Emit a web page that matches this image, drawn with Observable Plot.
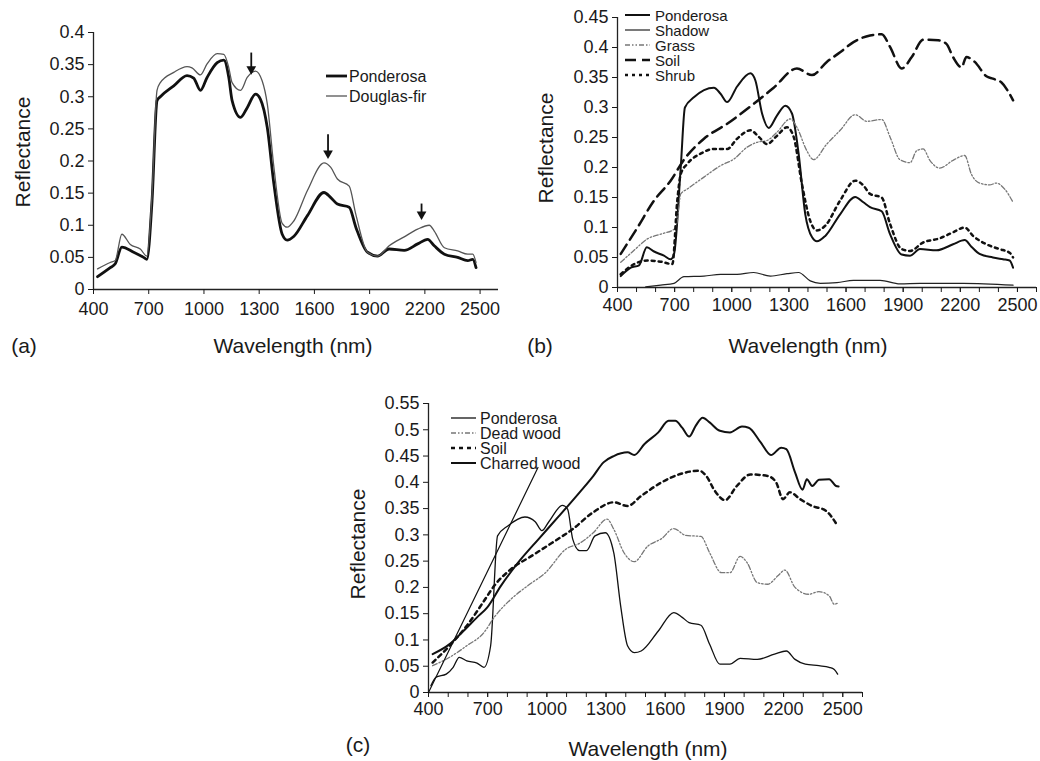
<!DOCTYPE html>
<html><head><meta charset="utf-8">
<script src="https://cdn.jsdelivr.net/npm/d3@7"></script>
<script src="https://cdn.jsdelivr.net/npm/@observablehq/plot@0.6"></script>
<style>
body{margin:0;background:#fff;}
#root{position:relative;width:1040px;height:761px;font-family:"Liberation Sans",Arial,Helvetica,sans-serif;color:#1a1a1a;overflow:hidden;background:#fff}
.panel{position:absolute}
.lbl{position:absolute;white-space:nowrap;font-size:21px;line-height:1;transform:translate(-50%,-50%)}
.ylab{position:absolute;font-size:21px;line-height:1;white-space:nowrap;transform:translate(-50%,-50%) rotate(-90deg)}
.legtxt{display:block;height:13px;line-height:13px;overflow:visible}
</style></head>
<body><div id="root"></div>
<script>
// ---------- data ----------
const xTickLabels = [400, 700, 1000, 1300, 1600, 1900, 2200, 2500];
const xMinorTicks = [400,500,600,700,800,900,1000,1100,1200,1300,1400,1500,1600,1700,1800,1900,2000,2100,2200,2300,2400,2500,2600];
const yTicksA = [0,0.05,0.1,0.15,0.2,0.25,0.3,0.35,0.4];
const yTicksB = [0,0.05,0.1,0.15,0.2,0.25,0.3,0.35,0.4,0.45];
const yTicksC = [0,0.05,0.1,0.15,0.2,0.25,0.3,0.35,0.4,0.45,0.5,0.55];

// Panel (a)
const aPonderosa = [[422,0.020],[491,0.034],[518,0.040],[554,0.066],[618,0.058],[672,0.050],[690,0.047],[718,0.138],[745,0.294],[763,0.300],[836,0.317],[908,0.333],[944,0.329],[981,0.310],[1017,0.330],[1072,0.353],[1108,0.357],[1135,0.330],[1153,0.294],[1199,0.268],[1235,0.283],[1280,0.304],[1307,0.296],[1344,0.252],[1380,0.164],[1425,0.086],[1452,0.077],[1489,0.083],[1562,0.115],[1652,0.151],[1689,0.143],[1725,0.133],[1789,0.128],[1825,0.097],[1888,0.058],[1943,0.052],[2006,0.063],[2088,0.061],[2161,0.071],[2215,0.078],[2251,0.068],[2306,0.055],[2378,0.050],[2433,0.045],[2460,0.047],[2478,0.034]];
const aDouglasFir = [[422,0.032],[491,0.042],[518,0.045],[554,0.086],[600,0.070],[654,0.063],[690,0.052],[718,0.148],[745,0.310],[763,0.322],[836,0.338],[908,0.347],[935,0.345],[981,0.334],[1017,0.351],[1072,0.367],[1108,0.366],[1135,0.345],[1153,0.322],[1199,0.310],[1235,0.330],[1280,0.340],[1316,0.325],[1344,0.289],[1380,0.190],[1425,0.103],[1452,0.097],[1489,0.107],[1562,0.154],[1652,0.197],[1689,0.190],[1725,0.172],[1789,0.161],[1825,0.117],[1888,0.058],[1943,0.052],[2006,0.068],[2088,0.082],[2161,0.094],[2224,0.100],[2251,0.091],[2306,0.065],[2378,0.060],[2433,0.055],[2460,0.055],[2478,0.042]];
const aArrows = [{x:1257,from:0.368,to:0.343},{x:1674,from:0.241,to:0.212},{x:2182,from:0.133,to:0.117}];

// Panel (b)
const bPonderosa = [[417,0.019],[470,0.033],[513,0.037],[554,0.067],[592,0.060],[644,0.053],[679,0.047],[697,0.056],[732,0.200],[754,0.300],[801,0.317],[906,0.333],[941,0.323],[976,0.309],[1028,0.335],[1098,0.357],[1124,0.345],[1159,0.290],[1194,0.266],[1238,0.287],[1281,0.303],[1316,0.290],[1351,0.223],[1386,0.122],[1421,0.084],[1447,0.077],[1491,0.086],[1569,0.122],[1648,0.151],[1691,0.142],[1726,0.134],[1787,0.127],[1831,0.089],[1892,0.055],[1936,0.053],[1988,0.064],[2075,0.062],[2162,0.072],[2223,0.079],[2258,0.068],[2301,0.056],[2371,0.050],[2424,0.047],[2459,0.045],[2477,0.033]];
const bShadow = [[548,0.001],[627,0.004],[697,0.007],[749,0.018],[854,0.019],[941,0.022],[1028,0.022],[1115,0.025],[1203,0.019],[1290,0.023],[1351,0.025],[1412,0.011],[1465,0.007],[1552,0.008],[1639,0.012],[1779,0.012],[1883,0.006],[1988,0.007],[2215,0.007],[2477,0.004]];
const bGrass = [[417,0.042],[487,0.062],[557,0.081],[627,0.089],[697,0.097],[714,0.111],[732,0.156],[766,0.164],[854,0.184],[941,0.203],[1011,0.214],[1081,0.234],[1133,0.242],[1185,0.245],[1238,0.259],[1307,0.281],[1342,0.267],[1394,0.228],[1429,0.213],[1499,0.239],[1569,0.262],[1648,0.288],[1709,0.277],[1787,0.280],[1831,0.251],[1883,0.213],[1936,0.208],[1971,0.228],[2005,0.231],[2040,0.212],[2092,0.199],[2162,0.212],[2223,0.220],[2258,0.189],[2301,0.174],[2354,0.171],[2389,0.174],[2433,0.164],[2477,0.142]];
const bSoil = [[417,0.056],[505,0.100],[592,0.145],[679,0.178],[749,0.213],[854,0.248],[976,0.273],[1115,0.306],[1220,0.333],[1342,0.365],[1421,0.354],[1499,0.376],[1569,0.392],[1639,0.409],[1726,0.420],[1787,0.422],[1831,0.401],[1892,0.365],[1945,0.384],[2005,0.413],[2084,0.412],[2127,0.406],[2162,0.384],[2206,0.367],[2232,0.384],[2276,0.376],[2337,0.352],[2371,0.348],[2415,0.342],[2477,0.312]];
const bShrub = [[417,0.022],[487,0.039],[557,0.045],[627,0.043],[688,0.039],[714,0.145],[732,0.189],[766,0.206],[836,0.223],[906,0.231],[976,0.231],[1028,0.248],[1098,0.262],[1142,0.251],[1185,0.239],[1238,0.253],[1290,0.267],[1325,0.251],[1368,0.173],[1412,0.111],[1447,0.095],[1491,0.103],[1569,0.145],[1648,0.178],[1691,0.170],[1726,0.156],[1787,0.150],[1831,0.106],[1892,0.064],[1936,0.061],[2005,0.075],[2092,0.082],[2162,0.092],[2223,0.100],[2267,0.086],[2337,0.072],[2406,0.064],[2459,0.058],[2477,0.050]];

// Panel (c)
const cPonderosa = [[412,0.013],[438,0.029],[490,0.035],[525,0.048],[556,0.067],[594,0.060],[646,0.056],[681,0.048],[715,0.089],[750,0.298],[802,0.317],[889,0.334],[941,0.325],[975,0.308],[1010,0.325],[1079,0.356],[1105,0.349],[1131,0.292],[1166,0.270],[1201,0.270],[1244,0.298],[1296,0.304],[1339,0.266],[1374,0.165],[1409,0.089],[1443,0.076],[1478,0.079],[1565,0.117],[1643,0.152],[1686,0.143],[1721,0.133],[1781,0.128],[1825,0.092],[1877,0.054],[1928,0.054],[1980,0.065],[2067,0.063],[2154,0.073],[2214,0.079],[2258,0.063],[2310,0.054],[2379,0.051],[2431,0.048],[2457,0.044],[2474,0.035]];
const cDeadWood = [[421,0.051],[507,0.067],[594,0.089],[681,0.114],[733,0.143],[819,0.178],[906,0.204],[993,0.228],[1097,0.273],[1166,0.284],[1235,0.304],[1305,0.330],[1339,0.311],[1391,0.266],[1443,0.249],[1513,0.279],[1582,0.293],[1643,0.312],[1704,0.299],[1781,0.297],[1825,0.266],[1885,0.228],[1928,0.228],[1980,0.259],[2015,0.247],[2067,0.209],[2119,0.206],[2171,0.222],[2206,0.233],[2258,0.200],[2327,0.187],[2379,0.192],[2431,0.184],[2457,0.168],[2479,0.171]];
const cSoil = [[421,0.057],[507,0.089],[594,0.127],[681,0.174],[733,0.203],[819,0.235],[923,0.260],[1027,0.285],[1131,0.311],[1235,0.343],[1339,0.362],[1409,0.355],[1478,0.374],[1582,0.400],[1686,0.417],[1773,0.422],[1808,0.412],[1851,0.384],[1903,0.366],[1963,0.393],[2032,0.415],[2119,0.412],[2162,0.400],[2197,0.368],[2232,0.381],[2284,0.368],[2345,0.355],[2414,0.346],[2474,0.317]];
const cCharredWood = [[421,0.073],[507,0.092],[577,0.117],[646,0.143],[698,0.162],[767,0.203],[854,0.247],[958,0.292],[1062,0.336],[1166,0.381],[1235,0.412],[1287,0.438],[1339,0.450],[1409,0.457],[1443,0.452],[1495,0.473],[1565,0.495],[1617,0.517],[1651,0.517],[1686,0.504],[1721,0.487],[1755,0.508],[1790,0.523],[1825,0.514],[1877,0.498],[1928,0.495],[1989,0.506],[2023,0.504],[2084,0.476],[2136,0.452],[2188,0.466],[2214,0.463],[2258,0.419],[2296,0.386],[2318,0.406],[2345,0.393],[2379,0.405],[2431,0.406],[2466,0.393],[2479,0.392]];
const cLeader = [[400,0],[955,0.428]];

// ---------- styles ----------
const DASHDOT = "5,2,1.5,2,1.5,2";
const seriesA = [
  {name:"Ponderosa", data:aPonderosa, color:"#111", width:2.8, dash:null},
  {name:"Douglas-fir", data:aDouglasFir, color:"#555", width:1.3, dash:null}
];
const seriesB = [
  {name:"Ponderosa", data:bPonderosa, color:"#111", width:2, dash:null},
  {name:"Shadow", data:bShadow, color:"#222", width:1.2, dash:null},
  {name:"Grass", data:bGrass, color:"#777", width:1.3, dash:DASHDOT},
  {name:"Soil", data:bSoil, color:"#111", width:2.5, dash:"11,6"},
  {name:"Shrub", data:bShrub, color:"#111", width:2.5, dash:"3,4"}
];
const seriesC = [
  {name:"Ponderosa", data:cPonderosa, color:"#111", width:1.3, dash:null},
  {name:"Dead wood", data:cDeadWood, color:"#777", width:1.3, dash:DASHDOT},
  {name:"Soil", data:cSoil, color:"#111", width:2.5, dash:"4,4"},
  {name:"Charred wood", data:cCharredWood, color:"#111", width:2, dash:null}
];

const FONT = '"Liberation Sans", Arial, Helvetica, sans-serif';
const root = document.getElementById("root");

function panel(o) {
  const marks = [
    Plot.ruleY([0], {stroke:"#222", strokeWidth:1.3}),
    Plot.ruleX([400], {stroke:"#222", strokeWidth:1.3}),
  ];
  if (o.minor) marks.push(Plot.axisX({ticks:xMinorTicks, tickSize:5, tickFormat:() => "", label:null}));
  marks.push(Plot.axisX({ticks:xTickLabels, tickSize:5, tickPadding:o.pad, tickFormat:d => String(d), label:null}));
  marks.push(Plot.axisY({ticks:o.yticks, tickSize:5, tickPadding:4, tickFormat:d => String(+d.toFixed(2)), label:null}));
  for (const s of o.series) {
    marks.push(Plot.line(s.data, {x:d => d[0], y:d => d[1], stroke:s.color, strokeWidth:s.width,
      strokeDasharray:s.dash || undefined, curve:"monotone-x"}));
  }
  if (o.extra) marks.push(...o.extra);
  const svg = Plot.plot({
    width:o.w, height:o.h,
    marginLeft:o.ml, marginRight:o.mr, marginTop:o.mt, marginBottom:o.mb,
    x:{domain:[400,2600]}, y:{domain:[0,o.ymax]},
    style:{fontFamily:FONT, fontSize:"18px", color:"#1a1a1a", background:"transparent", overflow:"visible"},
    marks
  });
  svg.classList.add("panel");
  svg.style.left = o.left + "px";
  svg.style.top = o.top + "px";
  root.appendChild(svg);
}

function legend(items, left, centers, len, textLeft, fs) {
  items.forEach((it, i) => {
    const row = document.createElement("div");
    row.style.cssText = `position:absolute;left:${left}px;top:${centers[i]-7}px;height:14px;display:flex;align-items:center;font-size:${fs}px;line-height:1;white-space:nowrap`;
    row.innerHTML = `<svg width="${len}" height="10" style="margin-right:${textLeft-left-len}px;flex:none;overflow:visible"><line x1="0" x2="${len}" y1="5" y2="5" stroke="${it.color}" stroke-width="${it.width}" ${it.dash ? `stroke-dasharray="${it.dash}"` : ""}/></svg><span class="legtxt">${it.name}</span>`;
    root.appendChild(row);
  });
}

function label(text, x, y, cls) {
  const d = document.createElement("div");
  d.className = cls;
  d.textContent = text;
  d.style.left = x + "px";
  d.style.top = y + "px";
  root.appendChild(d);
}

// Panel a
panel({left:0, top:0, w:520, h:340, ml:93, mr:22, mt:32, mb:51, ymax:0.4, yticks:yTicksA, pad:8, minor:false,
  series:seriesA,
  extra:[
    Plot.ruleX(aArrows, {x:"x", y1:"from", y2:"to", stroke:"#111", strokeWidth:1.8}),
    Plot.dot(aArrows, {x:"x", y:"to", symbol:"triangle", rotate:180, r:3.6, fill:"#111", stroke:"none"})
  ]});
// Panel b
panel({left:520, top:0, w:520, h:340, ml:97, mr:4, mt:17, mb:53, ymax:0.45, yticks:yTicksB, pad:6, minor:true,
  series:seriesB});
// Panel c
panel({left:340, top:340, w:540, h:421, ml:88, mr:18, mt:63, mb:69, ymax:0.55, yticks:yTicksC, pad:5, minor:true,
  series:seriesC,
  extra:[Plot.line(cLeader, {x:d => d[0], y:d => d[1], stroke:"#111", strokeWidth:1.2})]});

legend(seriesA, 326, [76, 96], 21, 349, 16);
legend(seriesB, 625, [15, 30, 45, 60, 75], 25, 655, 15);
legend(seriesC, 451, [418, 433, 448, 463], 25, 480, 16);

label("Reflectance", 22, 152, "ylab");
label("Reflectance", 545, 148, "ylab");
label("Reflectance", 357, 544, "ylab");
label("Wavelength (nm)", 293, 345, "lbl");
label("Wavelength (nm)", 808, 345, "lbl");
label("Wavelength (nm)", 648, 748, "lbl");
label("(a)", 24, 345, "lbl");
label("(b)", 540, 345, "lbl");
label("(c)", 358, 744, "lbl");
</script>
</body></html>
